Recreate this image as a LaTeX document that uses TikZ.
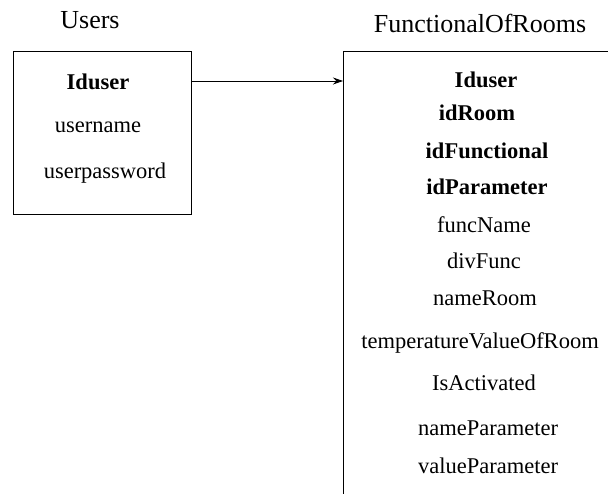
\documentclass[tikz,border=0pt]{standalone}
\usepackage{fontspec}
\setmainfont{Liberation Serif}
\usetikzlibrary{arrows.meta}
\tikzset{
	title/.style={anchor=base,font=\fontsize{26}{30}\selectfont},
	field/.style={anchor=base,font=\fontsize{22.5}{27}\selectfont},
	keyfield/.style={anchor=base,font=\fontsize{22.5}{27}\selectfont\bfseries},
}
\begin{document}
\begin{tikzpicture}[x=1pt,y=-1pt,>={Stealth[length=10pt,width=7pt]}]
	\useasboundingbox (0,0) rectangle (608,493);
	\clip (0,0) rectangle (608,493);
	
	\node[title] (tusers) at (90,28) {Users};
	\draw[line width=1pt] (13,51) rectangle (191,214);
	\node[keyfield] (uid) at (98,89) {Iduser};
	\node[field] (uname) at (98,132) {username};
	\node[field] (upass) at (105,178) {userpassword};
	
	\node[title] (trooms) at (480,32) {FunctionalOfRooms};
	\draw[line width=1pt] (343,51) rectangle (640,520);
	\node[keyfield] (rid) at (486,87) {Iduser};
	\node[keyfield] (rroom) at (477,120) {idRoom};
	\node[keyfield] (rfunc) at (487,158) {idFunctional};
	\node[keyfield] (rpar) at (487,194) {idParameter};
	\node[field] (rfname) at (484,232) {funcName};
	\node[field] (rdiv) at (484,268) {divFunc};
	\node[field] (rnroom) at (485,305) {nameRoom};
	\node[field] (rtemp) at (480,348) {temperatureValueOfRoom};
	\node[field] (ract) at (484,390) {IsActivated};
	\node[field] (rnpar) at (488,435) {nameParameter};
	\node[field] (rvpar) at (488,473) {valueParameter};
	
	\coordinate (from) at (191,81);
	\coordinate (to) at (343,81);
	\draw[->,line width=0.8pt] (from)--(to);
\end{tikzpicture}
\end{document}
